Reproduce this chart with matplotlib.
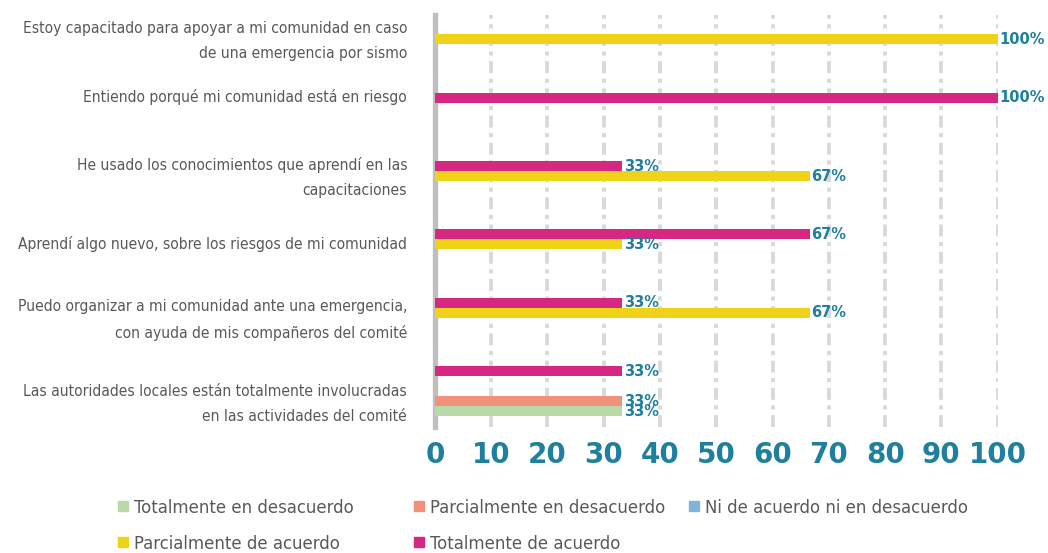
import numpy as np
import matplotlib
matplotlib.use("Agg")
import matplotlib.pyplot as plt
from matplotlib.lines import Line2D
from matplotlib import font_manager as fm

plt.rcParams['lines.scale_dashes'] = False

# categories listed top to bottom
categories = [
    "Estoy capacitado para apoyar a mi comunidad en caso\nde una emergencia por sismo",
    "Entiendo porqué mi comunidad está en riesgo",
    "He usado los conocimientos que aprendí en las\ncapacitaciones",
    "Aprendí algo nuevo, sobre los riesgos de mi comunidad",
    "Puedo organizar a mi comunidad ante una emergencia,\ncon ayuda de mis compañeros del comité",
    "Las autoridades locales están totalmente involucradas\nen las actividades del comité",
]
series_names = [
    "Totalmente en desacuerdo",
    "Parcialmente en desacuerdo",
    "Ni de acuerdo ni en desacuerdo",
    "Parcialmente de acuerdo",
    "Totalmente de acuerdo",
]
tot_desacuerdo = [0, 0, 0, 0, 0, 33.33]
parc_desacuerdo = [0, 0, 0, 0, 0, 33.33]
ni_ni = [0, 0, 0, 0, 0, 0]
parc_acuerdo = [100, 0, 66.67, 33.33, 66.67, 0]
tot_acuerdo = [0, 100, 33.33, 66.67, 33.33, 33.33]
values = [tot_desacuerdo, parc_desacuerdo, ni_ni, parc_acuerdo, tot_acuerdo]
colors = ["#b9d9a9", "#f1917c", "#80b5d8", "#f0d319", "#d62783"]
xticks = [0, 10, 20, 30, 40, 50, 60, 70, 80, 90, 100]

# look for a narrow face, the original uses a condensed font
narrow = None
for f in fm.fontManager.ttflist:
    fn = f.fname.lower()
    if ("condensed" in fn or "narrow" in fn) and "bold" not in fn and "italic" not in fn \
            and "oblique" not in fn:
        narrow = f
        break
if narrow is not None:
    base = dict(family=[narrow.name, "DejaVu Sans"], stretch=narrow.stretch)
    lab_size, leg_size = 11.2, 13.2
else:
    base = dict(family=["Lato", "DejaVu Sans"])
    lab_size, leg_size = 10.8, 12.5
gray_txt = "#595959"
teal = "#1f7f9e"

fig = plt.figure(figsize=(10.48, 5.53), dpi=100)
ax = fig.add_axes([0.415, 0.228, 0.537, 0.745])

n = len(categories)
ypos = np.arange(n)[::-1]
h = 0.146
for i, (vals, col) in enumerate(zip(values, colors)):
    y = ypos + (i - 2) * h
    ax.barh(y, vals, height=h, color=col, edgecolor="none", zorder=3)
    for yy, v in zip(y, vals):
        if v > 0:
            ax.text(v + 0.2, yy, f"{v:.0f}%", color=teal, fontsize=10.5,
                    fontweight="bold", va="center", ha="left", zorder=4)

ax.set_xlim(0, 100)
ax.set_ylim(-0.52, 5.5)

for x in xticks[1:]:
    ax.axvline(x, color="#d9d9d9", lw=2.8, dashes=(8.6, 4.0, 3.0, 4.0), zorder=1)

for s in ["top", "right", "bottom"]:
    ax.spines[s].set_visible(False)
ax.spines["left"].set_color("#bfbfbf")
ax.spines["left"].set_linewidth(3.8)

ax.set_xticks(xticks)
ax.set_xticklabels([str(t) for t in xticks], color=teal, fontsize=20,
                   fontweight="bold")
ax.tick_params(axis="x", length=0, pad=10)

label_shift = [0.21, 0.32, 0.22, 0.17, 0.15, -0.09]
ax.set_yticks(ypos + np.array(label_shift))
ax.set_yticklabels(categories, color=gray_txt, linespacing=1.85, size=lab_size,
                   **base)
ax.tick_params(axis="y", length=0, pad=20)

# legend: three columns, placed one by one so each starts where the original does
handles = [Line2D([], [], marker="s", ls="none", color=c, markersize=7)
           for c in colors]
columns = [[0, 3], [1, 4], [2]]
col_x = [0.112, 0.395, 0.657]
for idx, cx in zip(columns, col_x):
    leg = fig.legend([handles[k] for k in idx], [series_names[k] for k in idx],
                     loc="upper left", bbox_to_anchor=(cx, 0.098), ncol=1,
                     frameon=False, handlelength=0.6, handletextpad=0.3,
                     labelspacing=0.97, borderpad=0, borderaxespad=0,
                     prop=dict(size=leg_size, **base))
    for t in leg.get_texts():
        t.set_color(gray_txt)

fig.savefig("out.png", dpi=100)
